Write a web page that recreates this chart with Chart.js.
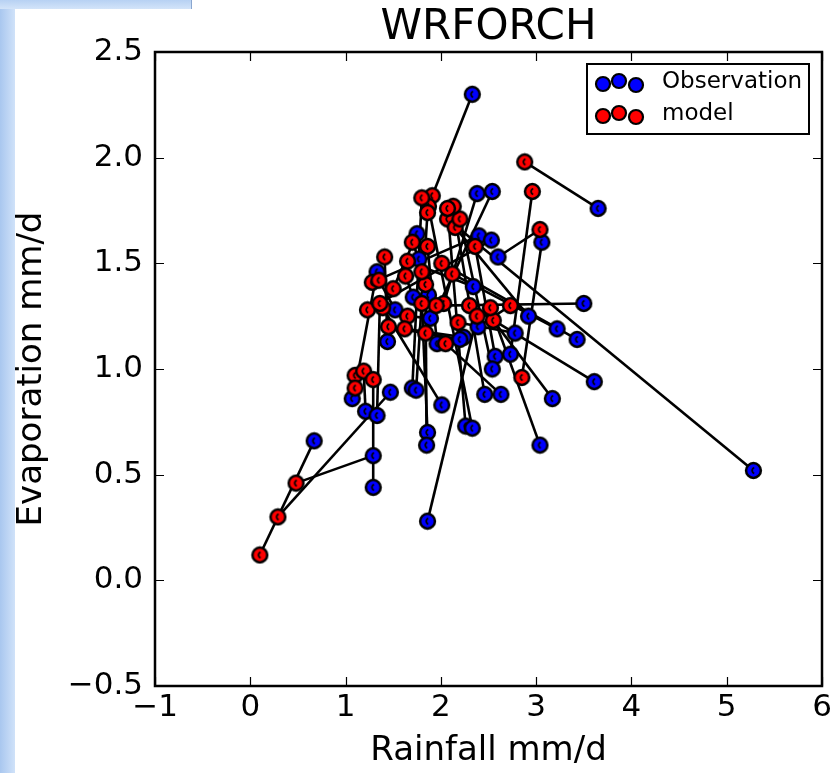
<!DOCTYPE html>
<html><head><meta charset="utf-8">
<script src="https://cdn.jsdelivr.net/npm/chart.js@4"></script>
<style>
html,body{margin:0;padding:0;background:#fff;overflow:hidden}
#wrap{position:relative;width:837px;height:773px}
#frameL{position:absolute;left:0;top:0;width:15px;height:773px;background:linear-gradient(90deg,#a9c7ef,#d0e2f9)}
#frameT{position:absolute;left:0;top:0;width:191px;height:9px;background:linear-gradient(180deg,#b7d1f3,#d3e4f9);border-right:1px solid #8aa6cf}
canvas{position:absolute;left:0;top:0}
#probe{position:absolute;left:-9999px;top:0;font-family:'DejaVu Sans';font-size:30px}
</style></head>
<body><div id="wrap"><div id="frameL"></div><div id="frameT"></div><canvas id="c" width="837" height="773"></canvas></div>
<span id="probe">WRFORCH 0123456789.−</span>
<script>
const chartTitle = 'WRFORCH';
const xAxisLabel = 'Rainfall mm/d';
const yAxisLabel = 'Evaporation mm/d';
const seriesNames = ['Observation', 'model'];
const xTicks = [-1, 0, 1, 2, 3, 4, 5, 6];
const yTicks = [-0.5, 0.0, 0.5, 1.0, 1.5, 2.0, 2.5];

// Observation (blue) points
const obsX = [2.33,3.65,5.28,2.38,2.54,2.40,2.53,2.60,3.06,3.50,2.92,3.22,3.43,2.78,2.73,2.57,2.54,3.61,3.17,2.63,2.46,3.04,2.26,2.33,1.86,1.85,1.86,2.01,1.70,1.74,1.47,1.07,1.21,1.33,1.29,1.29,0.67,2.34,1.96,1.44,1.52,1.71,1.87,1.89,2.24,1.75,1.77,1.33,2.39,2.20];
const obsY = [2.30,1.76,0.52,1.83,1.84,1.63,1.61,1.53,1.60,1.31,1.25,1.19,1.14,1.17,1.07,1.06,1.00,0.94,0.86,0.88,0.88,0.64,0.73,0.72,0.70,0.64,0.28,0.83,0.91,0.90,0.89,0.86,0.80,0.78,0.59,0.44,0.66,1.39,1.12,1.13,1.28,1.34,1.35,1.24,1.15,1.64,1.52,1.46,1.20,1.14];
// Model (red) points, paired with the observations above
const modX = [1.91,2.88,2.07,2.03,1.84,1.28,1.23,3.04,2.85,1.95,2.15,2.12,2.01,2.18,2.96,2.36,2.20,2.30,2.55,2.05,2.13,2.52,2.07,1.87,1.80,1.84,2.38,1.39,1.80,1.86,0.29,1.10,1.19,1.36,0.48,1.29,0.10,1.65,1.86,1.41,1.35,1.63,1.80,1.65,1.62,1.50,1.70,1.10,2.73,1.45];
const modY = [1.82,1.98,1.71,1.31,1.17,1.41,1.28,1.66,0.96,1.30,1.67,1.45,1.50,1.22,1.84,1.58,1.71,1.30,1.23,1.12,1.77,1.29,1.76,1.77,1.31,1.40,1.25,1.29,1.81,1.74,0.30,0.97,0.99,1.31,0.46,0.95,0.12,1.51,1.58,1.53,1.42,1.44,1.46,1.25,1.19,1.38,1.60,0.91,1.30,1.20];

const BLUE = '#0000ff', RED = '#ff0000';
const FONT = "'DejaVu Sans'";

function markerImage(fill) {
  const c = document.createElement('canvas');
  c.width = 19; c.height = 19;
  const g = c.getContext('2d');
  g.beginPath(); g.arc(9.5, 9.5, 7.4, 0, Math.PI * 2);
  g.fillStyle = fill; g.fill();
  g.lineWidth = 2.5; g.strokeStyle = '#000'; g.stroke();
  g.beginPath(); g.arc(11.2, 9.5, 3.0, 0.6 * Math.PI, 1.4 * Math.PI);
  g.lineWidth = 1.8; g.stroke();
  return c;
}

function build() {
  const blueImg = markerImage(BLUE), redImg = markerImage(RED);
  const datasets = [];
  for (let i = 0; i < obsX.length; i++) {
    datasets.push({
      type: 'line', label: 'pair' + i,
      data: [{x: obsX[i], y: obsY[i]}, {x: modX[i], y: modY[i]}],
      borderColor: '#000', borderWidth: 2.6, pointRadius: 0, fill: false, order: 5
    });
  }
  datasets.push({
    type: 'scatter', label: seriesNames[0],
    data: obsX.map((x, i) => ({x, y: obsY[i]})),
    pointStyle: blueImg, backgroundColor: BLUE, borderColor: '#000', order: 3
  });
  datasets.push({
    type: 'scatter', label: seriesNames[1],
    data: modX.map((x, i) => ({x, y: modY[i]})),
    pointStyle: redImg, backgroundColor: RED, borderColor: '#000', order: 2
  });

  const framePlugin = {
    id: 'frame',
    afterDraw(chart) {
      const {ctx, chartArea: a, scales} = chart;
      ctx.save();
      // title centred over the plot area
      ctx.fillStyle = '#000';
      ctx.font = '42px ' + FONT;
      ctx.textAlign = 'center';
      ctx.textBaseline = 'middle';
      ctx.fillText(chartTitle, (a.left + a.right) / 2, 28);

      ctx.strokeStyle = '#000';
      ctx.lineWidth = 1.2;
      const L = 9;
      ctx.beginPath();
      xTicks.forEach(v => {
        const px = Math.round(scales.x.getPixelForValue(v)) + 0.5;
        ctx.moveTo(px, a.bottom); ctx.lineTo(px, a.bottom - L);
        ctx.moveTo(px, a.top); ctx.lineTo(px, a.top + L);
      });
      yTicks.forEach(v => {
        const py = Math.round(scales.y.getPixelForValue(v)) + 0.5;
        ctx.moveTo(a.left, py); ctx.lineTo(a.left + L, py);
        ctx.moveTo(a.right, py); ctx.lineTo(a.right - L, py);
      });
      ctx.stroke();
      ctx.lineWidth = 2.5;
      ctx.strokeRect(a.left, a.top, a.right - a.left, a.bottom - a.top);

      // legend (three markers per entry)
      const bx = a.right - 235, by = a.top + 12, bw = 222, bh = 70;
      ctx.fillStyle = '#fff';
      ctx.fillRect(bx, by, bw, bh);
      ctx.lineWidth = 2;
      ctx.strokeRect(bx, by, bw, bh);
      const rows = [[seriesNames[0], BLUE, by + 18], [seriesNames[1], RED, by + 50]];
      rows.forEach(([name, col, cy]) => {
        [[16, 2], [32, -1], [49, 3]].forEach(([dx, dy]) => {
          ctx.beginPath(); ctx.arc(bx + dx, cy + dy, 7, 0, Math.PI * 2);
          ctx.fillStyle = col; ctx.fill();
          ctx.lineWidth = 2.2; ctx.strokeStyle = '#000'; ctx.stroke();
        });
        ctx.fillStyle = '#000';
        ctx.font = '23px ' + FONT;
        ctx.textAlign = 'left';
        ctx.textBaseline = 'middle';
        ctx.fillText(name, bx + 75, cy);
      });
      ctx.restore();
    }
  };

  Chart.defaults.font.family = FONT;
  Chart.defaults.color = '#000';

  new Chart(document.getElementById('c'), {
    data: {datasets},
    options: {
      responsive: false, animation: false, devicePixelRatio: 1,
      layout: {padding: {left: 8, right: 15, top: 52, bottom: 0}},
      plugins: {legend: {display: false}, tooltip: {enabled: false}, title: {display: false}},
      scales: {
        x: {
          type: 'linear', min: -1, max: 6,
          afterBuildTicks: s => { s.ticks = xTicks.map(v => ({value: v})); },
          afterFit: s => { s.height = 87; },
          ticks: {font: {size: 31}, padding: 3, maxRotation: 0, color: '#000',
            callback: v => String(v).replace('-', '\u2212')},
          grid: {display: false, drawTicks: false}, border: {display: false},
          title: {display: true, text: xAxisLabel, font: {size: 34}, color: '#000', padding: {top: 1, bottom: 1}}
        },
        y: {
          type: 'linear', min: -0.5, max: 2.5,
          afterBuildTicks: s => { s.ticks = yTicks.map(v => ({value: v})); },
          afterFit: s => { s.width = 147; },
          ticks: {font: {size: 31}, padding: 12, color: '#000',
            callback: v => Number(v).toFixed(1).replace('-', '\u2212')},
          grid: {display: false, drawTicks: false}, border: {display: false},
          title: {display: true, text: yAxisLabel, font: {size: 34}, color: '#000', padding: {top: 4, bottom: 14}}
        }
      }
    },
    plugins: [framePlugin]
  });
}

const ready = (document.fonts && document.fonts.load)
  ? Promise.all([document.fonts.load("30px 'DejaVu Sans'"), document.fonts.ready]).catch(() => {})
  : Promise.resolve();
ready.then(build, build);
</script>
</body></html>
